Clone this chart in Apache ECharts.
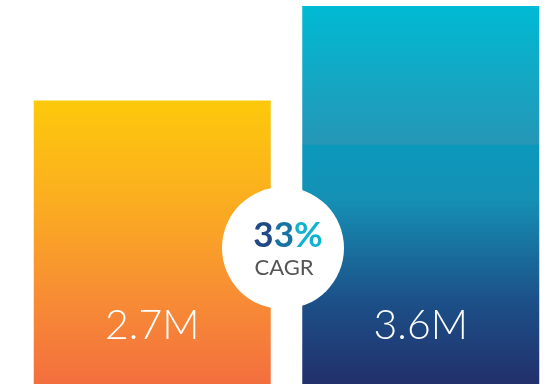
<!DOCTYPE html>
<html>
<head>
<meta charset="utf-8">
<script src="https://cdn.jsdelivr.net/npm/echarts@6/dist/echarts.min.js"></script>
<style>
  html, body { margin: 0; padding: 0; background: #fff; }
  #growth { width: 551px; height: 384px; }
</style>
</head>
<body>
<div id="growth"></div>
<script>
/* 市场规模 -> CAGR */
var categories = ['Before', 'After'];
var values = [2.7, 3.6];
var valueLabels = ['2.7M', '3.6M'];
var cagrText = ['3', '3', '%'];
var cagrCaption = 'CAGR';

var LG = echarts.graphic.LinearGradient;

var barColors = [
  new LG(0, 0, 0, 1, [
    { offset: 0, color: '#fdc90b' },
    { offset: 0.35, color: '#fbae20' },
    { offset: 0.7, color: '#f78c35' },
    { offset: 1, color: '#f36f3e' }
  ]),
  new LG(0, 0, 0, 1, [
    { offset: 0, color: '#00bad3' },
    { offset: 0.366, color: '#2596b6' },
    { offset: 0.368, color: '#0a99bb' },
    { offset: 0.51, color: '#1590b5' },
    { offset: 0.78, color: '#1c5088' },
    { offset: 1, color: '#22306b' }
  ])
];

var chart = echarts.init(document.getElementById('growth'));

var seriesData = [];
for (var i = 0; i < values.length; i++) {
  seriesData.push({
    value: values[i],
    itemStyle: { color: barColors[i] },
    label: { formatter: valueLabels[i] }
  });
}

var pctFont = { fontFamily: 'Lato', fontWeight: 'bold', fontSize: 35 };

chart.setOption({
  animation: false,
  grid: { left: 18, width: 537, top: 0, bottom: 0, outerBoundsMode: 'none' },
  xAxis: {
    type: 'category',
    data: categories,
    show: false
  },
  yAxis: {
    type: 'value',
    min: 0,
    max: 3.657,
    show: false
  },
  series: [{
    type: 'bar',
    barWidth: 237,
    data: seriesData,
    label: {
      show: true,
      position: 'insideBottom',
      distance: 37,
      color: '#fff',
      fontFamily: 'Lato',
      fontWeight: 300,
      fontSize: 41,
      lineHeight: 42
    }
  }],
  graphic: [
    {
      type: 'circle',
      shape: { cx: 283, cy: 248, r: 61 },
      style: { fill: '#fff' },
      z: 10
    },
    {
      type: 'text',
      x: 288,
      y: 236,
      z: 11,
      style: {
        text: '{a|' + cagrText[0] + '}{b|' + cagrText[1] + '}{c|' + cagrText[2] + '}',
        align: 'center',
        verticalAlign: 'middle',
        rich: {
          a: Object.assign({ fill: '#1f4a86' }, pctFont),
          b: Object.assign({ fill: '#1773a6' }, pctFont),
          c: Object.assign({ fill: '#0fb2d1' }, pctFont)
        }
      }
    },
    {
      type: 'text',
      x: 284,
      y: 268,
      z: 11,
      style: {
        text: cagrCaption,
        align: 'center',
        verticalAlign: 'middle',
        font: '22px Lato',
        fill: '#555'
      }
    }
  ]
});
</script>
</body>
</html>
